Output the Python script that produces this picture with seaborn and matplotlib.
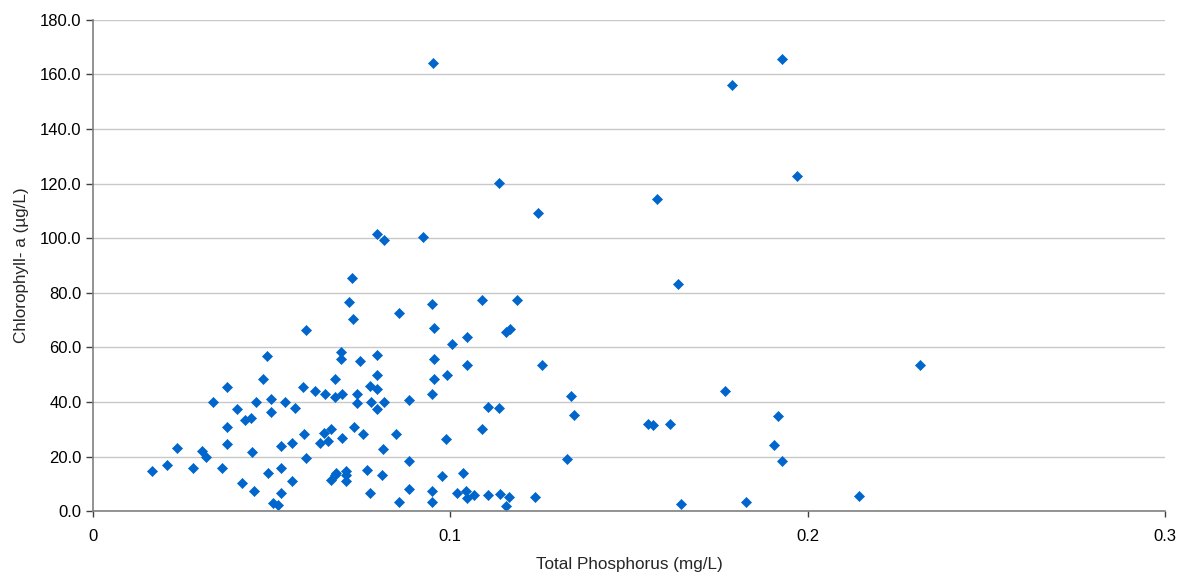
import matplotlib
matplotlib.use("Agg")
import matplotlib.pyplot as plt
import seaborn as sns
import pandas as pd
from matplotlib.ticker import FormatStrFormatter, FixedLocator, FixedFormatter

# Total phosphorus (mg/L) and chlorophyll-a (ug/L)
tp = [
    0.0167, 0.0207, 0.0237, 0.0281, 0.0306, 0.0318, 0.0362, 0.0336, 0.0376, 0.0403,
    0.0376, 0.0376, 0.0417, 0.0427, 0.0444, 0.0446, 0.0450, 0.0457, 0.0476, 0.0488,
    0.0498, 0.0498, 0.0491, 0.0527, 0.0527, 0.0527, 0.0504, 0.0517, 0.0538, 0.0567,
    0.0587, 0.0557, 0.0557, 0.0598, 0.0598, 0.0590, 0.0623, 0.0650, 0.0646, 0.0637,
    0.0659, 0.0668, 0.0678, 0.0678, 0.0697, 0.0697, 0.0696, 0.0696, 0.0716, 0.0727,
    0.0726, 0.0668, 0.0678, 0.0682, 0.0709, 0.0709, 0.0709, 0.0730, 0.0738, 0.0738,
    0.0748, 0.0757, 0.0768, 0.0777, 0.0778, 0.0777, 0.0796, 0.0796, 0.0796, 0.0796,
    0.0809, 0.0812, 0.0816, 0.0848, 0.0856, 0.0856, 0.0885, 0.0885, 0.0885, 0.0948,
    0.0954, 0.0954, 0.0955, 0.0948, 0.0948, 0.0948, 0.0989, 0.0992, 0.1006, 0.1047,
    0.1047, 0.0977, 0.1035, 0.1018, 0.1043, 0.1048, 0.1066, 0.1088, 0.1188, 0.1157,
    0.1167, 0.1257, 0.1339, 0.1347, 0.1106, 0.1137, 0.1090, 0.1327, 0.1554, 0.1567,
    0.1615, 0.1106, 0.1139, 0.1165, 0.1157, 0.1237, 0.0951, 0.1136, 0.1247, 0.0796,
    0.0815, 0.0925, 0.1928, 0.1788, 0.1969, 0.1578, 0.1637, 0.2315, 0.1769, 0.1917,
    0.1906, 0.1928, 0.1647, 0.1828, 0.2144,
]
chla = [
    14.6, 17.1, 23.3, 16.0, 22.0, 19.9, 16.0, 40.2, 45.5, 37.4,
    30.7, 24.8, 10.3, 33.6, 34.0, 21.7, 7.3, 40.2, 48.4, 57.0,
    41.1, 36.3, 14.0, 23.8, 16.0, 6.8, 3.2, 2.4, 40.2, 37.7,
    45.5, 25.2, 11.2, 66.3, 19.4, 28.2, 44.2, 43.0, 28.7, 25.2,
    25.6, 30.3, 48.4, 41.7, 43.0, 26.7, 58.2, 55.9, 76.8, 70.6,
    85.6, 11.4, 13.2, 14.2, 14.8, 13.2, 11.0, 30.7, 43.1, 39.7,
    55.2, 28.2, 15.0, 46.0, 40.2, 6.8, 57.1, 49.8, 44.9, 37.4,
    13.2, 22.8, 40.2, 28.2, 72.5, 3.4, 40.7, 18.4, 8.3, 75.9,
    67.3, 55.7, 48.4, 43.0, 7.4, 3.4, 26.6, 49.8, 61.4, 63.8,
    53.7, 13.1, 14.2, 6.8, 7.4, 5.0, 5.9, 77.3, 77.3, 65.7,
    66.7, 53.7, 42.1, 35.3, 38.2, 37.7, 30.0, 19.3, 32.1, 31.5,
    32.1, 5.9, 6.5, 5.2, 2.0, 5.2, 164.2, 120.3, 109.3, 101.6,
    99.5, 100.5, 165.7, 156.0, 122.7, 114.5, 83.2, 53.7, 44.1, 34.8,
    24.3, 18.4, 2.6, 3.5, 5.5,
]

y_ticks = [0, 20, 40, 60, 80, 100, 120, 140, 160, 180]
x_ticks = [0, 0.1, 0.2, 0.3]
x_tick_labels = ["0", "0.1", "0.2", "0.3"]

df = pd.DataFrame({"tp": tp, "chla": chla})

sns.set_style("white")
plt.rcParams["font.family"] = ["Liberation Sans", "DejaVu Sans"]

fig = plt.figure(figsize=(11.81, 5.78), dpi=100)
ax = fig.add_axes([0.0785, 0.1154, 0.908, 0.8502])

ax.yaxis.grid(True, color="#c8c8c8", linewidth=1)
ax.set_axisbelow(True)

sns.scatterplot(
    data=df, x="tp", y="chla", ax=ax,
    marker="D", s=26, color="#0066cc", edgecolor="#0066cc", linewidth=0.5,
)

ax.set_xlim(0, 0.3)
ax.set_ylim(0, 180)
ax.yaxis.set_major_locator(FixedLocator(y_ticks))
ax.yaxis.set_major_formatter(FormatStrFormatter("%.1f"))
ax.xaxis.set_major_locator(FixedLocator(x_ticks))
ax.xaxis.set_major_formatter(FixedFormatter(x_tick_labels))

for side in ["top", "right"]:
    ax.spines[side].set_visible(False)
for side in ["left", "bottom"]:
    ax.spines[side].set_color("#808080")
    ax.spines[side].set_linewidth(1.2)

ax.tick_params(axis="y", direction="out", length=5, width=1, color="#404040",
               labelsize=12, labelcolor="black", pad=3, left=True)
ax.tick_params(axis="x", direction="out", length=4, width=1, color="#404040",
               labelsize=12, labelcolor="black", pad=9, bottom=True)

ax.set_xlabel("Total Phosphorus (mg/L)", fontsize=12.3, labelpad=9)
ax.set_ylabel("Chlorophyll- a (\u00b5g/L)", fontsize=12.3, labelpad=8)

fig.savefig("out.png", dpi=100)
